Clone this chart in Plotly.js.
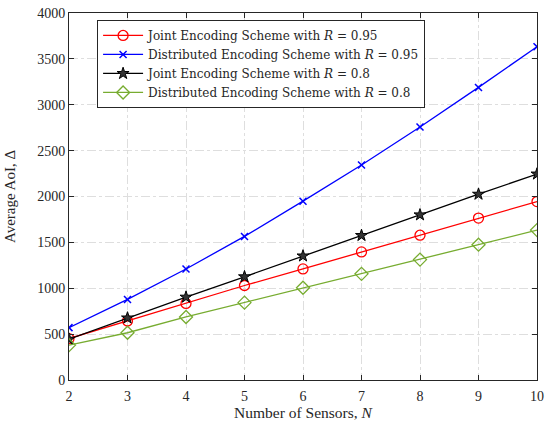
<!DOCTYPE html>
<html><head><meta charset="utf-8">
<script src="https://cdn.plot.ly/plotly-3.0.1.min.js"></script>
<style>body{margin:0;background:#fff}#c{width:547px;height:423px}</style>
</head><body><div id="c"></div>
<script>
const N = [2, 3, 4, 5, 6, 7, 8, 9, 10];
const joint95 = [452, 643, 835, 1030, 1211, 1396, 1578, 1765, 1945];
const dist95 = [571, 878, 1210, 1565, 1949, 2343, 2758, 3189, 3633];
const joint80 = [445, 676, 903, 1125, 1352, 1575, 1800, 2025, 2245];
const dist80 = [380, 515, 687, 843, 1005, 1157, 1312, 1475, 1634];
const names = [
  'Joint Encoding Scheme with <i>R</i> = 0.95',
  'Distributed Encoding Scheme with <i>R</i> = 0.95',
  'Joint Encoding Scheme with <i>R</i> = 0.8',
  'Distributed Encoding Scheme with <i>R</i> = 0.8'
];
const yTicks = [0, 500, 1000, 1500, 2000, 2500, 3000, 3500, 4000];

const font = 'Liberation Serif, Times New Roman, serif';
const legFont = 'DejaVu Serif, serif';
const traces = [
  {x: N, y: joint95, name: names[0], mode: 'lines+markers',
   line: {color: '#ff0000', width: 1.3},
   marker: {symbol: 'circle-open', size: 10, color: '#ff0000', line: {width: 1.3}}},
  {x: N, y: dist95, name: names[1], mode: 'lines+markers',
   line: {color: '#0000ff', width: 1.3},
   marker: {symbol: 'x-thin', size: 7, color: '#0000ff', line: {width: 1.5, color: '#0000ff'}}},
  {x: N, y: joint80, name: names[2], mode: 'lines+markers',
   line: {color: '#000000', width: 1.3},
   marker: {symbol: 'star', size: 9, color: '#333', line: {width: 1, color: '#000'}}},
  {x: N, y: dist80, name: names[3], mode: 'lines+markers',
   line: {color: '#77ac30', width: 1.3},
   marker: {symbol: 'diamond-open', size: 10, color: '#77ac30', line: {width: 1.3}}}
];
const axisCommon = {
  showline: true, mirror: 'ticks', linecolor: '#262626', linewidth: 1,
  ticks: 'inside', ticklen: 5, tickcolor: '#262626',
  showgrid: true, gridcolor: '#dedede', griddash: 'dashdot', gridwidth: 1,
  zeroline: false, tickfont: {family: font, size: 14, color: '#262626'}
};
const layout = {
  width: 547, height: 423,
  margin: {l: 69, r: 10, t: 13, b: 43},
  paper_bgcolor: '#fff', plot_bgcolor: '#fff',
  font: {family: font, color: '#262626'},
  showlegend: true,
  legend: {x: 0.06, y: 0.981, xanchor: 'left', yanchor: 'top',
    bgcolor: '#fff', bordercolor: '#262626', borderwidth: 1,
    font: {family: legFont, size: 12, color: '#262626'}, tracegroupgap: 0, itemwidth: 40},
  xaxis: Object.assign({}, axisCommon, {range: [2, 10], tickvals: N, ticklabelstandoff: 3,
    title: {text: 'Number of Sensors, <i>N</i>', font: {family: font, size: 15.5, color: '#262626'}, standoff: 4}}),
  yaxis: Object.assign({}, axisCommon, {range: [0, 4000], tickvals: yTicks,
    title: {text: 'Average AoI, Δ', font: {family: font, size: 15, color: '#262626'}, standoff: 17}})
};
Plotly.newPlot('c', traces, layout, {displayModeBar: false, staticPlot: true});
</script></body></html>
